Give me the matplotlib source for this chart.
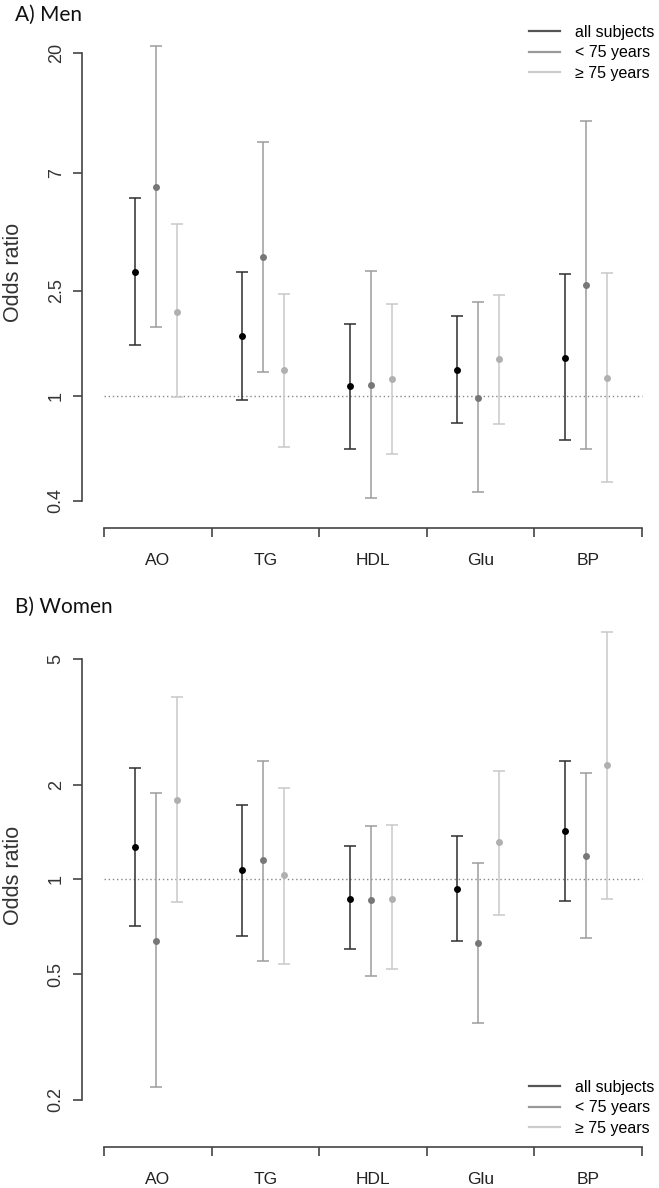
import matplotlib.pyplot as plt
import numpy as np
from matplotlib.lines import Line2D

plt.rcParams['font.family'] = ['Liberation Sans', 'DejaVu Sans']

W, H = 659, 1188

categories = ['AO', 'TG', 'HDL', 'Glu', 'BP']
groups = ['all subjects', '< 75 years', '\u2265 75 years']

# A) Men - odds ratio, lower and upper CI
men_all_or = [2.95, 1.69, 1.09, 1.25, 1.39]
men_all_lo = [1.56, 0.96, 0.63, 0.79, 0.68]
men_all_hi = [5.61, 2.95, 1.87, 2.00, 2.90]
men_young_or = [6.21, 3.36, 1.10, 0.98, 2.62]
men_young_lo = [1.82, 1.23, 0.41, 0.43, 0.63]
men_young_hi = [21.2, 9.2, 2.97, 2.26, 11.06]
men_old_or = [2.08, 1.25, 1.16, 1.38, 1.17]
men_old_lo = [0.99, 0.64, 0.60, 0.78, 0.47]
men_old_hi = [4.47, 2.44, 2.22, 2.42, 2.93]

# B) Women
women_all_or = [1.27, 1.07, 0.87, 0.93, 1.42]
women_all_lo = [0.71, 0.66, 0.60, 0.64, 0.855]
women_all_hi = [2.26, 1.72, 1.28, 1.37, 2.38]
women_young_or = [0.64, 1.15, 0.86, 0.63, 1.19]
women_young_lo = [0.22, 0.55, 0.495, 0.35, 0.65]
women_young_hi = [1.88, 2.38, 1.48, 1.13, 2.17]
women_old_or = [1.79, 1.03, 0.87, 1.31, 2.31]
women_old_lo = [0.85, 0.54, 0.52, 0.77, 0.87]
women_old_hi = [3.80, 1.95, 1.49, 2.20, 6.10]

men_yticks = [0.4, 1, 2.5, 7, 20]
women_yticks = [0.2, 0.5, 1, 2, 5]

offsets = [0.285, 0.48, 0.675]
bar_colors = ['#2e2e2e', '#9c9c9c', '#c9c9c9']
dot_colors = ['#000000', '#777777', '#b0b0b0']
legend_colors = ['#555555', '#999999', '#cccccc']
axis_color = '#444444'


def px_rect(left, top, right, bottom):
    return [left / W, 1 - bottom / H, (right - left) / W, (bottom - top) / H]


def draw_panel(fig, rect, ylim, yticks, series, title, title_base, legend_row1):
    ax = fig.add_axes(px_rect(*rect))
    ax.set_yscale('log')
    ax.set_xlim(-0.2045, 5.074)
    ax.set_ylim(*ylim)

    x = np.arange(len(categories))
    for k, (orr, lo, hi) in enumerate(series):
        orr, lo, hi = np.array(orr), np.array(lo), np.array(hi)
        ax.errorbar(x + offsets[k], orr, yerr=[orr - lo, hi - orr], fmt='none',
                    ecolor=bar_colors[k], elinewidth=1.1, capsize=4, capthick=1.1,
                    clip_on=False, zorder=2)
        ax.plot(x + offsets[k], orr, 'o', color=dot_colors[k], ms=5, mec='none',
                clip_on=False, zorder=3)

    ax.plot([0, 5], [1, 1], linestyle=(0, (1, 2)), color='#888888', lw=1, zorder=1)

    for s in ['top', 'right']:
        ax.spines[s].set_visible(False)
    for s in ['left', 'bottom']:
        ax.spines[s].set_color(axis_color)
        ax.spines[s].set_linewidth(1.2)
    ax.spines['left'].set_bounds(yticks[0], yticks[-1])
    ax.spines['bottom'].set_bounds(0, 5)

    ax.yaxis.set_minor_locator(plt.NullLocator())
    ax.set_yticks(yticks)
    ax.set_yticklabels([f'{t:g}' for t in yticks])
    ax.tick_params(axis='y', length=6.5, width=1.2, color=axis_color, labelsize=13,
                   labelcolor='#333333', pad=6, labelrotation=90)
    for lab in ax.get_yticklabels():
        lab.set_va('center')

    ax.set_xticks(np.arange(6))
    ax.set_xticklabels([])
    ax.set_xticks(np.arange(5) + 0.5, minor=True)
    ax.set_xticklabels(categories, minor=True)
    ax.tick_params(axis='x', which='major', length=6.5, width=1.2, color=axis_color)
    ax.tick_params(axis='x', which='minor', length=0, pad=18, labelsize=12.5,
                   labelcolor='#222222')

    # y label centred on the spine
    y0 = np.log10(ylim[0])
    y1 = np.log10(ylim[1])
    mid = (np.log10(yticks[0]) + np.log10(yticks[-1])) / 2
    frac = (mid - y0) / (y1 - y0)
    ax.text(-68 / (rect[2] - rect[0]), frac + 4 / (rect[3] - rect[1]), 'Odds ratio',
            transform=ax.transAxes, rotation=90, ha='center', va='center',
            fontsize=15.5, color='#333333')

    fig.text(15 / W, 1 - title_base / H, title, ha='left', va='baseline',
             fontsize=15, family=['Lato', 'DejaVu Sans'], color='#111111')

    handles = [Line2D([], [], color=c, lw=1.6) for c in legend_colors]
    ax.legend(handles, groups, loc='upper left', frameon=False,
              bbox_to_anchor=(529 / W, 1 - (legend_row1 - 10) / H),
              bbox_transform=fig.transFigure, fontsize=11.5, handlelength=1.95,
              handletextpad=0.9, labelspacing=0.34, borderpad=0, borderaxespad=0)
    return ax


fig = plt.figure(figsize=(W / 100, H / 100), dpi=100)

draw_panel(fig, (82, 40, 650, 528), (0.3147, 22.39), men_yticks,
           [(men_all_or, men_all_lo, men_all_hi),
            (men_young_or, men_young_lo, men_young_hi),
            (men_old_or, men_old_lo, men_old_hi)],
           'A) Men', 21, 35)

draw_panel(fig, (82, 620, 650, 1146.7), (0.1422, 6.645), women_yticks,
           [(women_all_or, women_all_lo, women_all_hi),
            (women_young_or, women_young_lo, women_young_hi),
            (women_old_or, women_old_lo, women_old_hi)],
           'B) Women', 613, 1090)

fig.savefig('out.png', dpi=100)
